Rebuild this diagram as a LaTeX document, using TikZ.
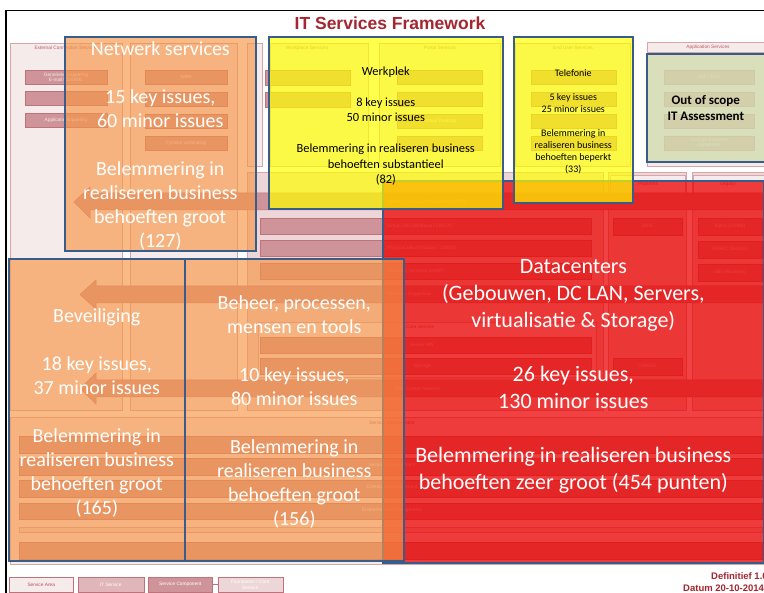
\documentclass[tikz,border=0pt]{standalone}
\usepackage{fontspec}
\setmainfont{Carlito}
\newfontfamily\arialfont{Liberation Sans}
\usetikzlibrary{positioning}

\definecolor{titlered}{RGB}{165,38,48}
\definecolor{areafill}{RGB}{245,235,235}
\definecolor{areadraw}{RGB}{215,165,170}
\definecolor{basefill}{RGB}{237,214,216}
\definecolor{svcfill}{RGB}{224,182,186}
\definecolor{compfill}{RGB}{207,148,153}
\definecolor{compdraw}{RGB}{190,115,123}
\definecolor{issueblue}{RGB}{56,93,138}
\definecolor{issueorange}{RGB}{247,150,70}
\definecolor{issuered}{RGB}{236,0,0}
\definecolor{issueyellow}{RGB}{255,255,0}
\definecolor{scopegreen}{RGB}{212,221,176}

\begin{document}
\begin{tikzpicture}[x=1pt, y=-1pt,
  area/.style={draw=areadraw, fill=areafill, line width=0.5pt},
  base/.style={draw=areadraw, fill=basefill, line width=0.5pt},
  comp/.style={draw=compdraw, fill=compfill, line width=0.5pt},
  tiny/.style={font=\arialfont\fontsize{4.8}{5.4}\selectfont, text=white!80!compfill, inner sep=0pt, align=center},
  tinyhead/.style={font=\arialfont\fontsize{4.8}{5.4}\selectfont, text=titlered!75!white, inner sep=0pt},
  issue/.style={draw=issueblue, line width=1.6pt, fill opacity=0.65, anchor=north west, inner sep=0pt},
  issuetext/.style={align=center, inner sep=0pt},
  legendbox/.style={draw=compdraw, line width=0.5pt, minimum height=15pt, inner sep=0pt, text=white, align=center, font=\arialfont\fontsize{4.8}{5.4}\selectfont},
  footer/.style={font=\arialfont\bfseries\fontsize{9.5}{11}\selectfont, text=titlered, inner sep=0pt}]
\useasboundingbox (0,0) rectangle (764,593);
\fill[white] (0,0) rectangle (764,593);

% frame and title
\draw[line width=1.3pt] (6,593) -- (6,10.5) -- (764,10.5);
\node[font=\arialfont\bfseries\fontsize{17.5}{20}\selectfont, text=titlered, inner sep=0pt] (title) at (390,23.5) {IT Services Framework};

% service areas
\draw[area] (10,43) rectangle (122,410);
\draw[area] (130,43) rectangle (237,410);
\draw[area] (247,43) rectangle (262,166);
\draw[area] (270,43) rectangle (368,166);
\draw[area] (379,43) rectangle (500,166);
\draw[area] (515,43) rectangle (630,166);
\draw[area] (647,42) rectangle (764,166);
\draw[area] (647,42) rectangle (764,52);
\draw[base] (247,172) rectangle (603,410);
\draw[base] (608,172) rectangle (686,410);
\draw[base] (692,172) rectangle (764,410);
\draw[area] (610,175) rectangle (685,193);
\draw[area] (693,175) rectangle (764,193);
\draw[area] (258,322) rectangle (596,377);
\draw[area] (10,417) rectangle (764,564);

\node[tinyhead] (ecs) at (66,48) {External Connection Services};
\node[tinyhead] (workplace) at (307,48) {Workplace Services};
\node[tinyhead] (portal) at (440,48) {Portal Services};
\node[tinyhead] (enduser) at (573,48) {End User Services};
\node[tinyhead] (application) at (708,47) {Application Services};
\node[tinyhead] (platforms) at (648,184) {Platforms};
\node[tinyhead] (legacy) at (728,184) {Legacy};
\node[tinyhead, anchor=west] (core) at (406,327) {Core Service};

% service components
\foreach \ya in {70,91,113}
  \draw[comp] (25,\ya) rectangle (107,\ya+14);
\foreach \ya in {70,92}
  \draw[comp] (265,\ya) rectangle (350,\ya+15);
\foreach \xa/\xb in {145/227, 397/482, 531/616, 664/754}
  \foreach \ya in {70,92,114,136}
    \draw[comp] (\xa,\ya) rectangle (\xb,\ya+14);
\node[tiny] (koppeling) at (66,77) {Generieke koppeling\\E-mail/EDI/XML};
\node[tiny] (applicatie) at (66,120) {Applicatie koppeling};
\node[tiny] (wan) at (186,77) {WAN};
\node[tiny] (fysiek) at (186,143) {Fysieke verbinding};
\node[tiny] (desktop) at (440,121) {Virtual Desktop};
\node[tiny] (erp) at (709,77) {SAP / ERP};
\node[tiny] (overig) at (709,143) {Overige Business\\Applicaties};

% foundation rows
\draw[comp] (74,202) -- (90,187) -- (90,193) -- (764,193) -- (764,210) -- (90,210) -- (90,218) -- cycle;
\draw[comp] (80,294.5) -- (96,280) -- (96,286) -- (764,286) -- (764,303) -- (96,303) -- (96,309) -- cycle;
\draw[comp] (80,388.5) -- (96,373) -- (96,380) -- (764,380) -- (764,397) -- (96,397) -- (96,404) -- cycle;
\foreach \ya in {218,240,263,337,358}
  \draw[comp] (260,\ya) rectangle (591,\ya+16);
\draw[comp] (613,218) rectangle (682,235);
\draw[comp] (613,358) rectangle (682,375);
\foreach \ya in {218,241,264}
  \draw[comp] (698,\ya) rectangle (762,\ya+17);
\node[tiny, anchor=west] (iam) at (387,202) {Identity \& Access Management (IAM)};
\node[tiny, anchor=west] (virtual) at (387,226) {Virtual x86 (Windows / LINUX)};
\node[tiny, anchor=west] (physical) at (387,248) {Physical x86 (Windows / LINUX)};
\node[tiny, anchor=west] (ldap) at (388,271) {Directory Services (LDAP)};
\node[tiny, anchor=west] (generiek) at (387,294) {Generiek Koppelvlak};
\node[tiny, anchor=west] (serverhw) at (410,345) {Server HW};
\node[tiny, anchor=west] (storage) at (414,366) {Storage};
\node[tiny, anchor=west] (dcnetwork) at (395,389) {Data Center Network};
\node[tiny] (zseries) at (647,226) {Z800};
\node[tiny] (ds) at (647,366) {DS8000};
\node[tiny] (alpha) at (730,226) {Alpha (OVMS)};
\node[tiny] (sparc) at (730,249) {SPARC (Solaris)};
\node[tiny] (xwin) at (730,272) {x86 (Windows)};

% service management rows
\foreach \ya/\yb in {436/453, 458/475, 480/497, 503/519, 542/559}
  \draw[comp] (19,\ya) rectangle (762,\yb);
\draw[base] (19,527) rectangle (762,532);
\node[tinyhead] (svcmgmt) at (392,423) {Service Management};
\node[tiny] (secmgmt) at (392,465) {Security Management};
\node[tiny] (contmgmt) at (392,487) {Continuity Management};
\node[tiny] (envmgmt) at (392,510) {Environmental Management};

% assessment results
\node[issue, fill=issuered, fill opacity=0.74, minimum width=381pt, minimum height=382pt] (datacenters) at (382,180) {};
\node[issuetext, text=white, font=\fontsize{22}{27}\selectfont] (datacenterstext) at ([yshift=-4.5pt]datacenters.center) {Datacenters\\(Gebouwen, DC LAN, Servers,\\virtualisatie \& Storage)\\[27pt]26 key issues,\\130 minor issues\\[27pt]Belemmering in realiseren business\\behoeften zeer groot (454 punten)};

\node[issue, fill=issueorange, minimum width=191pt, minimum height=214pt] (netwerk) at (64,36) {};
\node[issuetext, text=white, font=\fontsize{20}{24}\selectfont] (netwerktext) at ([yshift=-2pt]netwerk.center) {Netwerk services\\[24pt]15 key issues,\\60 minor issues\\[24pt]Belemmering in\\realiseren business\\behoeften groot\\(127)};

\node[issue, fill=issueorange, minimum width=176pt, minimum height=302pt] (beveiliging) at (8,258) {};
\node[issuetext, text=white, font=\fontsize{20}{24}\selectfont] (beveiligingtext) at ([yshift=-3pt]beveiliging.center) {Beveiliging\\[24pt]18 key issues,\\37 minor issues\\[24pt]Belemmering in\\realiseren business\\behoeften groot\\(165)};

\node[issue, fill=issueorange, minimum width=219pt, minimum height=302pt] (beheer) at (184,258) {};
\node[issuetext, text=white, font=\fontsize{20}{24}\selectfont] (beheertext) at ([yshift=-2pt]beheer.center) {Beheer, processen,\\mensen en tools\\[24pt]10 key issues,\\80 minor issues\\[24pt]Belemmering in\\realiseren business\\behoeften groot\\(156)};

\node[issue, fill=issueyellow, fill opacity=0.7, minimum width=234pt, minimum height=172pt] (werkplek) at (268,36) {};
\node[issuetext, font=\fontsize{12.4}{15.5}\selectfont] (werkplektext) at ([yshift=-3.5pt]werkplek.center) {Werkplek\\[15.5pt]8 key issues\\50 minor issues\\[15.5pt]Belemmering in realiseren business\\behoeften substantieel\\(82)};

\node[issue, fill=issueyellow, fill opacity=0.7, minimum width=119pt, minimum height=166pt] (telefonie) at (513,36) {};
\node[issuetext, font=\fontsize{10}{12}\selectfont] (telefonietext) at ([yshift=-2pt]telefonie.center) {Telefonie\\[12pt]5 key issues\\25 minor issues\\[12pt]Belemmering in\\realiseren business\\behoeften beperkt\\(33)};

\node[issue, fill=scopegreen, fill opacity=0.82, minimum width=120pt, minimum height=108pt] (scope) at (646,53) {};
\node[issuetext, font=\bfseries\fontsize{13}{16}\selectfont] (scopetext) at ([xshift=-1pt]scope.center) {Out of scope\\IT Assessment};

% legend and footer
\node[legendbox, fill=areafill, text=titlered!80!white, minimum width=64pt, anchor=north west] (servicearea) at (9,577) {Service Area};
\node[legendbox, fill=svcfill, minimum width=66pt, right=4pt of servicearea] (itservice) {IT Service};
\node[legendbox, fill=compfill, minimum width=64pt, right=4pt of itservice] (component) {Service Component};
\node[legendbox, fill=basefill, minimum width=65pt, right=5pt of component] (foundation) {Foundation / Core\\Service};
\draw[compdraw, line width=0.5pt] (component) -- (foundation);
\node[footer, anchor=base west] (version) at (711,580) {Definitief 1.0};
\node[footer, anchor=base west] (datum) at (683,592) {Datum 20-10-2014};
\end{tikzpicture}
\end{document}
